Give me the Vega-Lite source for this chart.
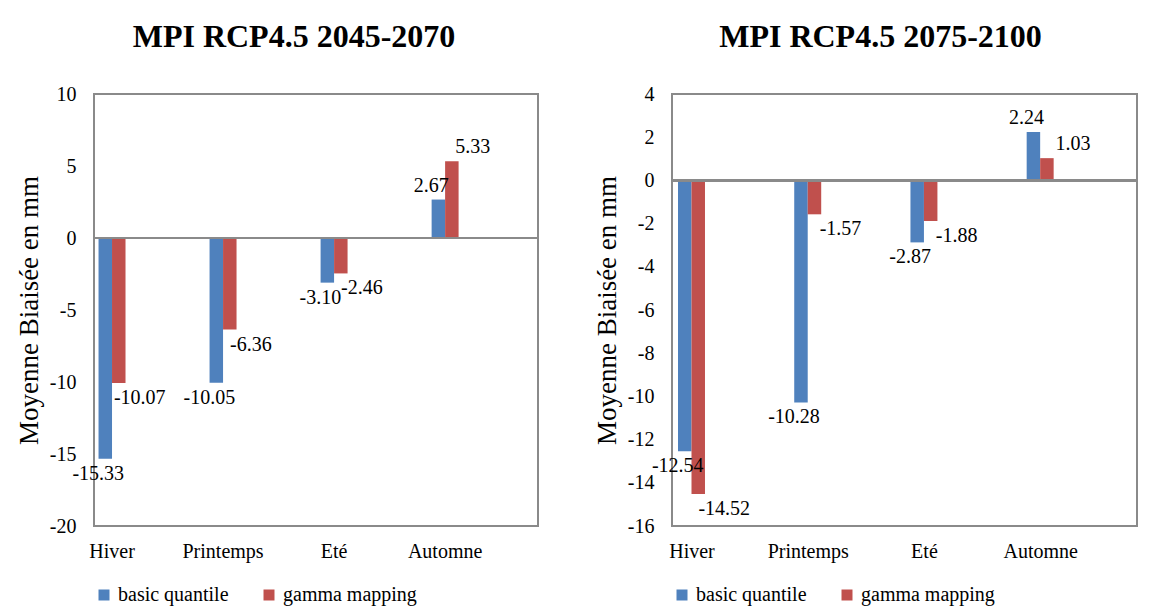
{
  "$schema": "https://vega.github.io/schema/vega-lite/v6.json",
  "background": "white",
  "padding": {"left": 14, "top": 20, "right": 10, "bottom": 0},
  "bounds": "flush",
  "spacing": 134,
  "datasets": {
    "p1": [
      {"saison": "Hiver", "serie": "basic quantile", "v": -15.33},
      {"saison": "Hiver", "serie": "gamma mapping", "v": -10.07},
      {"saison": "Printemps", "serie": "basic quantile", "v": -10.05},
      {"saison": "Printemps", "serie": "gamma mapping", "v": -6.36},
      {"saison": "Eté", "serie": "basic quantile", "v": -3.10},
      {"saison": "Eté", "serie": "gamma mapping", "v": -2.46},
      {"saison": "Automne", "serie": "basic quantile", "v": 2.67},
      {"saison": "Automne", "serie": "gamma mapping", "v": 5.33}
    ],
    "p2": [
      {"saison": "Hiver", "serie": "basic quantile", "v": -12.54},
      {"saison": "Hiver", "serie": "gamma mapping", "v": -14.52},
      {"saison": "Printemps", "serie": "basic quantile", "v": -10.28},
      {"saison": "Printemps", "serie": "gamma mapping", "v": -1.57},
      {"saison": "Eté", "serie": "basic quantile", "v": -2.87},
      {"saison": "Eté", "serie": "gamma mapping", "v": -1.88},
      {"saison": "Automne", "serie": "basic quantile", "v": 2.24},
      {"saison": "Automne", "serie": "gamma mapping", "v": 1.03}
    ]
  },
  "config": {
    "locale": {"number": {"decimal": ".", "thousands": ",", "grouping": [3], "currency": ["", ""], "minus": "-"}},
    "font": "Liberation Serif",
    "view": {"stroke": "#8a8a8a", "strokeWidth": 2},
    "axis": {"labelFont": "Liberation Serif", "titleFont": "Liberation Serif", "labelColor": "black", "titleColor": "black", "grid": false, "ticks": false, "domain": false},
    "legend": {"labelFont": "Liberation Serif", "labelFontSize": 20, "labelColor": "black"},
    "title": {"font": "Liberation Serif", "fontSize": 32, "fontWeight": "bold", "color": "black"}
  },
  "resolve": {"scale": {"color": "independent", "y": "independent", "x": "independent"}},
  "hconcat": [
    {
      "width": 444,
      "height": 432,
      "data": {"name": "p1"},
      "title": {"text": "MPI RCP4.5 2045-2070", "dx": -22, "offset": 30},
      "encoding": {
        "x": {"field": "saison", "type": "nominal", "sort": ["Hiver", "Printemps", "Eté", "Automne"],
              "scale": {"paddingInner": 0.757, "paddingOuter": 0.378, "align": 0.054},
              "axis": {"title": null, "labelAngle": 0, "labelFontSize": 20, "labelPadding": 15}},
        "xOffset": {"field": "serie", "type": "nominal", "scale": {"paddingInner": 0}},
        "y": {"field": "v", "type": "quantitative",
              "scale": {"domain": [-20, 10], "nice": false, "zero": false},
              "axis": {"title": "Moyenne Biaisée en mm", "titleFontSize": 27, "titleFontWeight": "normal", "labelFontSize": 20, "labelPadding": 18, "titlePadding": 6, "values": [-20, -15, -10, -5, 0, 5, 10]}}
      },
      "layer": [
        {
          "mark": {"type": "bar"},
          "encoding": {
            "color": {"field": "serie", "type": "nominal",
                      "scale": {"domain": ["basic quantile", "gamma mapping"], "range": ["#4F81BD", "#C0504D"]},
                      "legend": {"title": null, "orient": "bottom", "direction": "horizontal", "symbolType": "square", "symbolSize": 121, "columnPadding": 30, "offset": 24, "symbolOpacity": 1, "labelOffset": 4}}
          }
        },
        {
          "mark": {"type": "rule", "color": "#8a8a8a", "strokeWidth": 2},
          "encoding": {"y": {"datum": 0}, "x": null, "xOffset": null}
        },
        {
          "mark": {"type": "text", "fontSize": 20, "color": "black",
                   "baseline": {"expr": "datum.v < 0 ? 'top' : 'bottom'"},
                   "dy": {"expr": "datum.v < 0 ? 5 : -4"},
                   "dx": {"expr": "datum.serie == 'gamma mapping' ? 21 : -7"}},
          "encoding": {"text": {"field": "v", "type": "quantitative", "format": ".2f"}}
        }
      ]
    },
    {
      "width": 465,
      "height": 432,
      "data": {"name": "p2"},
      "title": {"text": "MPI RCP4.5 2075-2100", "dx": -24, "offset": 30},
      "encoding": {
        "x": {"field": "saison", "type": "nominal", "sort": ["Hiver", "Printemps", "Eté", "Automne"],
              "scale": {"paddingInner": 0.759, "paddingOuter": 0.38, "align": 0.068},
              "axis": {"title": null, "labelAngle": 0, "labelFontSize": 20, "labelPadding": 15}},
        "xOffset": {"field": "serie", "type": "nominal", "scale": {"paddingInner": 0}},
        "y": {"field": "v", "type": "quantitative",
              "scale": {"domain": [-16, 4], "nice": false, "zero": false},
              "axis": {"title": "Moyenne Biaisée en mm", "titleFontSize": 27, "titleFontWeight": "normal", "labelFontSize": 20, "labelPadding": 18, "titlePadding": 6, "values": [-16, -14, -12, -10, -8, -6, -4, -2, 0, 2, 4]}}
      },
      "layer": [
        {
          "mark": {"type": "bar"},
          "encoding": {
            "color": {"field": "serie", "type": "nominal",
                      "scale": {"domain": ["basic quantile", "gamma mapping"], "range": ["#4F81BD", "#C0504D"]},
                      "legend": {"title": null, "orient": "bottom", "direction": "horizontal", "symbolType": "square", "symbolSize": 121, "columnPadding": 30, "offset": 24, "symbolOpacity": 1, "labelOffset": 4}}
          }
        },
        {
          "mark": {"type": "rule", "color": "#8a8a8a", "strokeWidth": 2},
          "encoding": {"y": {"datum": 0}, "x": null, "xOffset": null}
        },
        {
          "mark": {"type": "text", "fontSize": 20, "color": "black",
                   "baseline": {"expr": "datum.v < 0 ? 'top' : 'bottom'"},
                   "dy": {"expr": "datum.v < 0 ? 5 : -4"},
                   "dx": {"expr": "datum.serie == 'gamma mapping' ? 26 : -7"}},
          "encoding": {"text": {"field": "v", "type": "quantitative", "format": ".2f"}}
        }
      ]
    }
  ]
}
